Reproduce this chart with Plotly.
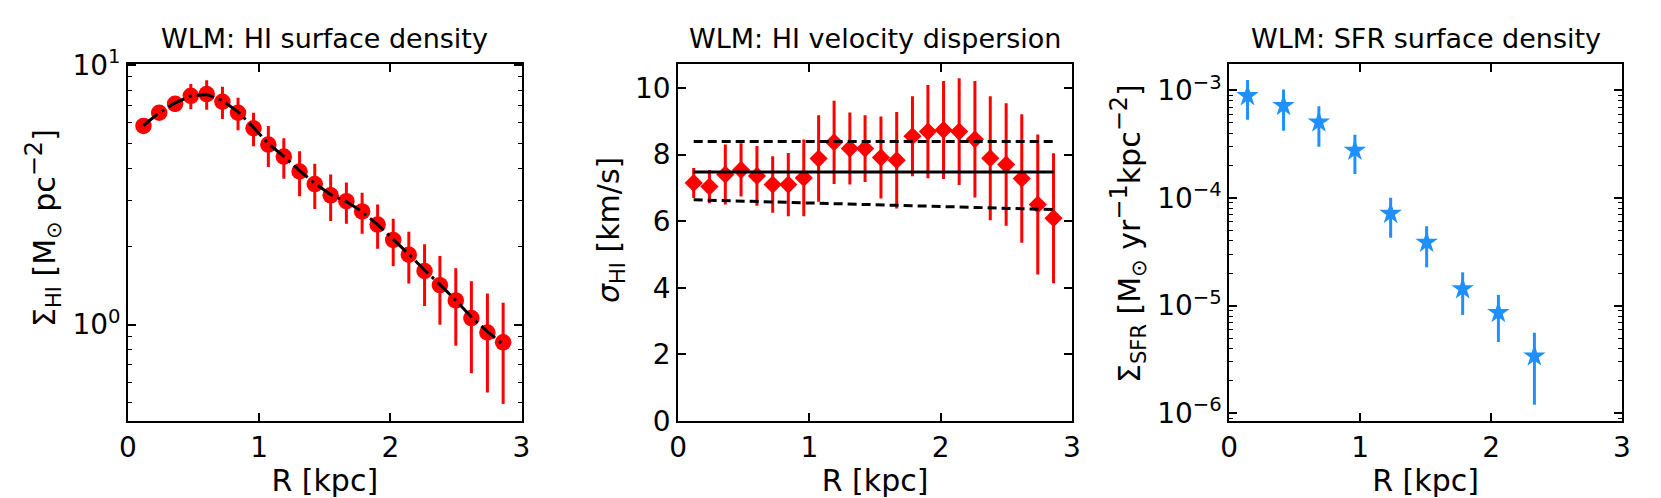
import plotly.graph_objects as go
from plotly.subplots import make_subplots

# ---------------- data ----------------
r_hi = [0.118, 0.238, 0.359, 0.479, 0.600, 0.720, 0.839, 0.957, 1.070, 1.188,
        1.308, 1.424, 1.545, 1.665, 1.785, 1.903, 2.022, 2.141, 2.261, 2.378,
        2.499, 2.618, 2.740, 2.860]

sigma_hi = [5.83, 6.55, 7.09, 7.61, 7.73, 7.22, 6.55, 5.71, 4.94, 4.44,
            3.89, 3.48, 3.15, 2.99, 2.73, 2.43, 2.12, 1.86, 1.61, 1.42,
            1.24, 1.06, 0.933, 0.855]
sigma_hi_err = [0.25, 0.30, 0.50, 0.85, 1.00, 1.02, 0.94, 0.84, 0.89, 0.79,
                0.77, 0.69, 0.64, 0.54, 0.49, 0.47, 0.44, 0.42, 0.43, 0.42,
                0.41, 0.41, 0.385, 0.36]
model_hi = [5.85, 6.55, 7.15, 7.6, 7.7, 7.3, 6.6, 5.75, 4.98, 4.45,
            3.92, 3.5, 3.17, 2.98, 2.72, 2.43, 2.13, 1.87, 1.62, 1.43,
            1.24, 1.07, 0.94, 0.84]

disp = [7.15, 7.04, 7.40, 7.54, 7.36, 7.10, 7.10, 7.30, 7.88, 8.37,
        8.18, 8.18, 7.91, 7.83, 8.55, 8.69, 8.74, 8.69, 8.46, 7.89,
        7.70, 7.28, 6.50, 6.09]
disp_err = [0.45, 0.50, 0.90, 0.80, 0.90, 0.85, 0.95, 1.15, 1.30, 1.25,
            1.08, 1.00, 1.23, 1.45, 1.20, 1.40, 1.47, 1.60, 1.75, 1.86,
            1.84, 1.93, 2.10, 1.95]
line_r = [0.118, 2.860]
disp_mean = [7.48, 7.48]
disp_upper = [8.39, 8.39]
disp_lower = [6.64, 6.35]

r_sfr = [0.140, 0.415, 0.685, 0.960, 1.233, 1.508, 1.783, 2.056, 2.331]
sfr = [8.93e-4, 7.23e-4, 5.07e-4, 2.77e-4, 7.18e-5, 3.87e-5, 1.43e-5, 8.6e-6, 3.4e-6]
sfr_err = [3.6e-4, 3.0e-4, 2.07e-4, 1.1e-4, 2.9e-5, 1.6e-5, 6.1e-6, 4.0e-6, 2.2e-6]

titles = ["WLM: HI surface density", "WLM: HI velocity dispersion", "WLM: SFR surface density"]
SUP = "<sup><span style='font-size:24px'>{}</span></sup>"
ylabels = [
    "Σ<sub>HI</sub> [M<sub>⊙</sub> pc" + SUP.format("−2") + "]",
    "<i>σ</i><sub>HI</sub> [km/s]",
    "Σ<sub>SFR</sub> [M<sub>⊙</sub> yr" + SUP.format("−1") + "kpc" + SUP.format("−2") + "]",
]

# ---------------- figure ----------------
FONT = "DejaVu Sans"
RED = "#ff0000"
BLUE = "#1e90ff"
TICK_FS = 28
LABEL_FS = 30
TITLE_FS = 27

fig = make_subplots(rows=1, cols=3)

fig.add_trace(go.Scatter(
    x=r_hi, y=sigma_hi, mode="markers",
    marker=dict(symbol="circle", size=16.5, color=RED),
    error_y=dict(type="data", array=sigma_hi_err, color=RED, thickness=3, width=0),
    showlegend=False), row=1, col=1)
fig.add_trace(go.Scatter(
    x=r_hi, y=model_hi, mode="lines",
    line=dict(color="black", width=3, dash="18px,5px,3px,5px"),
    showlegend=False), row=1, col=1)

fig.add_trace(go.Scatter(
    x=r_hi, y=disp, mode="markers",
    marker=dict(symbol="diamond", size=14, color=RED),
    error_y=dict(type="data", array=disp_err, color=RED, thickness=3, width=0),
    showlegend=False), row=1, col=2)
fig.add_trace(go.Scatter(x=line_r, y=disp_mean, mode="lines",
                         line=dict(color="black", width=3), showlegend=False), row=1, col=2)
fig.add_trace(go.Scatter(x=line_r, y=disp_upper, mode="lines",
                         line=dict(color="black", width=3, dash="9px,5px"), showlegend=False), row=1, col=2)
fig.add_trace(go.Scatter(x=line_r, y=disp_lower, mode="lines",
                         line=dict(color="black", width=3, dash="9px,5px"), showlegend=False), row=1, col=2)

fig.add_trace(go.Scatter(
    x=r_sfr, y=sfr, mode="markers",
    marker=dict(symbol="star", size=17, color=BLUE),
    error_y=dict(type="data", array=sfr_err, color=BLUE, thickness=3, width=0),
    showlegend=False), row=1, col=3)

W, H = 1661, 498
ML, MR, MT, MB = 128, 39, 64, 77
PW = W - ML - MR
PH = H - MT - MB
doms = [[0.0, (521.5 - ML) / PW], [(678.2 - ML) / PW, (1071.9 - ML) / PW], [(1229.2 - ML) / PW, 1.0]]

common_ax = dict(showline=True, linecolor="black", linewidth=1.8, mirror="ticks",
                 ticks="inside", ticklen=8, tickwidth=1.8, tickcolor="black",
                 showgrid=False, zeroline=False, automargin=False,
                 tickfont=dict(family=FONT, size=TICK_FS, color="black"))

for i in range(3):
    fig.update_xaxes(domain=doms[i], range=[0, 3], tickvals=[0, 1, 2, 3],
                     ticktext=["0", "1", "2", "3"],
                     title=dict(text="R [kpc]", font=dict(family=FONT, size=LABEL_FS, color="black"), standoff=10),
                     row=1, col=i + 1, **common_ax)

minor_log = dict(ticks="inside", ticklen=4, tickwidth=1.3, tickcolor="black", dtick="D1", showgrid=False)

fig.update_yaxes(type="log", range=[-0.371, 1.004], tickvals=[1, 10],
                 ticktext=["10<sup>0</sup>", "10<sup>1</sup>"], minor=minor_log,
                 row=1, col=1, **common_ax)
fig.update_yaxes(range=[0, 10.72], tickvals=[0, 2, 4, 6, 8, 10],
                 ticktext=["0", "2", "4", "6", "8", "10"],
                 row=1, col=2, **common_ax)
fig.update_yaxes(type="log", range=[-6.072, -2.754], tickvals=[1e-6, 1e-5, 1e-4, 1e-3],
                 ticktext=["10<sup>−6</sup>", "10<sup>−5</sup>", "10<sup>−4</sup>", "10<sup>−3</sup>"],
                 minor=minor_log,
                 row=1, col=3, **common_ax)

for i, t in enumerate(titles):
    fig.add_annotation(text=t, xref="paper", yref="paper",
                       x=(doms[i][0] + doms[i][1]) / 2, y=1.0, yshift=26,
                       xanchor="center", yanchor="middle", showarrow=False,
                       font=dict(family=FONT, size=TITLE_FS, color="black"))

# y-axis labels (pixel centres measured on the reference)
ylab_pos = [(43, 228), (610, 230), (1128, 234)]
for (px, py), t in zip(ylab_pos, ylabels):
    fig.add_annotation(text=t, xref="paper", yref="paper",
                       x=(px - ML) / PW, y=(H - MB - py) / PH,
                       xanchor="center", yanchor="middle", textangle=-90, showarrow=False,
                       font=dict(family=FONT, size=LABEL_FS, color="black"))

fig.update_layout(width=W, height=H, margin=dict(l=ML, r=MR, t=MT, b=MB),
                  paper_bgcolor="white", plot_bgcolor="white",
                  font=dict(family=FONT, color="black"))

fig.write_html("out.html", config={"displayModeBar": False},
               post_script="document.body.style.margin='0';document.body.style.padding='0';"
                           "document.documentElement.style.overflow='hidden';")
